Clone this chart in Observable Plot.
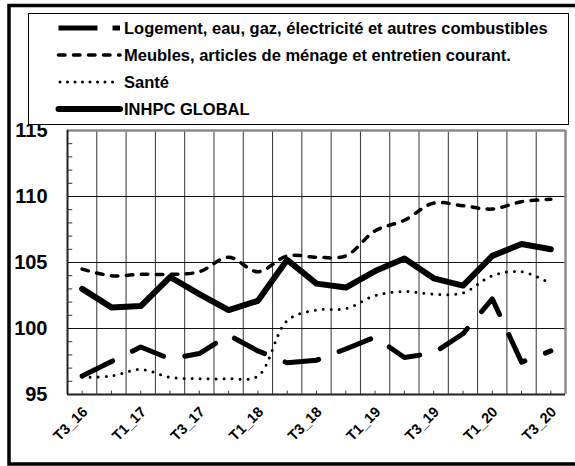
<!DOCTYPE html>
<html>
<head>
<meta charset="utf-8">
<script src="https://cdn.jsdelivr.net/npm/d3@7"></script>
<script src="https://cdn.jsdelivr.net/npm/@observablehq/plot@0.6"></script>
<style>
  html, body { margin: 0; padding: 0; background: #fff; }
  #chart { width: 575px; height: 466px; position: relative; overflow: hidden; }
</style>
</head>
<body>
<div id="chart"></div>
<script>
const quarters = ["T3_16","T4_16","T1_17","T2_17","T3_17","T4_17","T1_18","T2_18","T3_18","T4_18","T1_19","T2_19","T3_19","T4_19","T1_20","T2_20","T3_20"];
const logement = [96.4, 97.5, 98.6, 97.7, 98.1, 99.5, 98.3, 97.4, 97.6, 98.45, 99.35, 97.8, 98.15, 99.6, 102.25, 97.45, 98.3];
const meubles  = [104.5, 104.0, 104.1, 104.1, 104.3, 105.4, 104.3, 105.5, 105.4, 105.5, 107.4, 108.2, 109.5, 109.3, 109.05, 109.6, 109.8];
const sante    = [96.3, 96.4, 96.9, 96.3, 96.2, 96.2, 96.4, 100.6, 101.4, 101.5, 102.5, 102.8, 102.6, 102.7, 104.0, 104.3, 103.4];
const inhpc    = [103.0, 101.6, 101.7, 103.9, 102.6, 101.4, 102.1, 105.2, 103.4, 103.1, 104.35, 105.3, 103.8, 103.25, 105.5, 106.4, 106.0];
const yTicks = [95, 100, 105, 110, 115];
const seriesNames = [
  "Logement, eau, gaz, électricité et autres combustibles",
  "Meubles, articles de ménage et entretien courant.",
  "Santé",
  "INHPC GLOBAL"
];

const idx = quarters.map((q, i) => i);
const labelIdx = idx.filter(i => i % 2 === 0);
const bounds = idx.slice(0, -1).map(i => i + 0.5);
const minor = d3.range(96, 115).filter(v => v % 5 !== 0);
const toRows = arr => arr.map((v, i) => ({i, v}));

const styles = [
  {strokeWidth: 5, strokeDasharray: "34,22", curve: "linear"},
  {strokeWidth: 3.5, strokeDasharray: "6.5,8.5", curve: "catmull-rom"},
  {strokeWidth: 3, strokeDasharray: "0,8", curve: "catmull-rom"},
  {strokeWidth: 6, strokeDasharray: null, curve: "linear"}
];
const seriesData = [logement, meubles, sante, inhpc];
const FONT = "'Liberation Sans', Arial, sans-serif";

const plot = Plot.plot({
  width: 575,
  height: 466,
  marginLeft: 67,
  marginRight: 10,
  marginTop: 130,
  marginBottom: 72,
  style: {fontFamily: FONT, background: "#fff", overflow: "visible"},
  x: {type: "linear", domain: [-0.5, quarters.length - 0.5]},
  y: {domain: [95, 115]},
  marks: [
    Plot.ruleY([100, 105, 110], {stroke: "#111", strokeWidth: 1}),
    Plot.ruleX(bounds, {stroke: "#111", strokeWidth: 1, strokeOpacity: 0.85}),
    Plot.ruleY(minor, {x1: -0.5, x2: -0.5 + 0.18, stroke: "#333", strokeWidth: 1}),
    Plot.ruleX(idx, {y1: 95, y2: 95.25, stroke: "#333", strokeWidth: 1}),
    Plot.ruleY([115], {stroke: "#8a8a8a", strokeWidth: 2.5}),
    Plot.ruleX([quarters.length - 0.5], {stroke: "#8a8a8a", strokeWidth: 2.5}),
    Plot.ruleX([-0.5], {stroke: "#222", strokeWidth: 2}),
    Plot.ruleY([95], {stroke: "#222", strokeWidth: 2}),
    ...seriesData.map((arr, k) => Plot.line(toRows(arr), {
      x: "i", y: "v", stroke: "black",
      strokeWidth: styles[k].strokeWidth,
      strokeDasharray: styles[k].strokeDasharray,
      strokeLinecap: "round", strokeLinejoin: "round",
      curve: styles[k].curve
    })),
    Plot.axisY({ticks: yTicks, tickSize: 0, tickPadding: 20, fontSize: 20, fontWeight: "bold", fill: "black", label: null}),
    Plot.text(labelIdx, {
      x: d => d, y: 95, text: d => quarters[d],
      rotate: -45, textAnchor: "end", lineAnchor: "middle",
      dx: 3, dy: 15, fontSize: 14.5, fontWeight: "bold", fill: "black"
    })
  ],
  axis: null
});

document.getElementById("chart").appendChild(plot);

const svg = d3.select(plot);

// outer frame
svg.append("rect")
  .attr("x", 9).attr("y", 5.5).attr("width", 580).attr("height", 458.5)
  .attr("fill", "none").attr("stroke", "black").attr("stroke-width", 3.5);

// legend box
const lg = svg.append("g");
lg.append("rect")
  .attr("x", 28.5).attr("y", 13.5).attr("width", 540).attr("height", 111)
  .attr("fill", "white").attr("stroke", "black").attr("stroke-width", 1);
const rowsY = [28, 55, 82, 109];
const legendDash = ["39,15", "6.5,8.5", "0,7.5", null];
seriesNames.forEach((name, k) => {
  const y = rowsY[k];
  const isLog = k === 0;
  lg.append("line")
    .attr("x1", k === 2 ? 60 : 58.5).attr("x2", 120).attr("y1", y).attr("y2", y)
    .attr("stroke", "black")
    .attr("stroke-width", styles[k].strokeWidth)
    .attr("stroke-dasharray", legendDash[k])
    .attr("stroke-linecap", isLog ? "butt" : "round");
  lg.append("text")
    .attr("x", 124).attr("y", y).attr("dy", "0.35em")
    .style("text-anchor", "start")
    .style("font-family", FONT)
    .style("font-size", "16.5px")
    .style("font-weight", "bold")
    .style("fill", "black")
    .text(name);
});
</script>
</body>
</html>
